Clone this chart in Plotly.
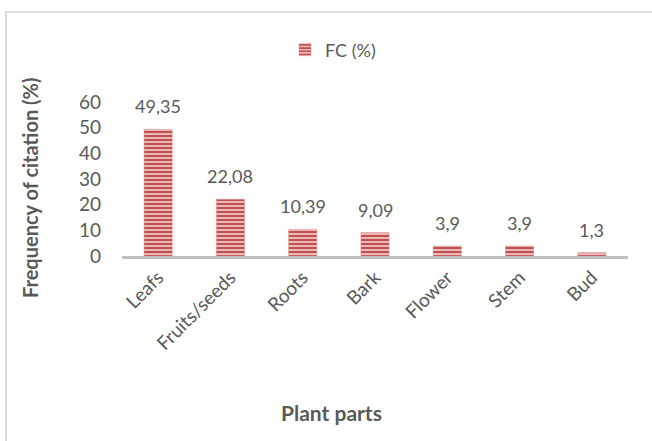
import plotly.graph_objects as go

categories = ["Leafs", "Fruits/seeds", "Roots", "Bark", "Flower", "Stem", "Bud"]
fc_values = [49.35, 22.08, 10.39, 9.09, 3.9, 3.9, 1.3]
y_ticks = [0, 10, 20, 30, 40, 50, 60]

labels = [("%g" % v).replace(".", ",") for v in fc_values]

FONT = "Lato, Open Sans, sans-serif"
GRAY = "#595959"

W, H = 652, 441
L, R, T, B = 122, 24, 102, 185
pw, ph = W - L - R, H - T - B

def px(x):
    return (x - L) / pw

def py(y):
    return (H - B - y) / ph

fig = go.Figure()
fig.add_trace(go.Bar(
    x=categories, y=fc_values, name="FC (%)",
    width=0.39,
    marker=dict(
        color="#F0C4C3",
        line=dict(color="#D98E8C", width=0.5),
        pattern=dict(shape="-", fgcolor="#C0504D", bgcolor="#F0C4C3", size=4,
                     solidity=0.55, fgopacity=1),
    ),
    showlegend=True,
))

annotations = [
    dict(x=c, y=v, text=t, xref="x", yref="y", showarrow=False, yanchor="bottom",
         yshift=10, font=dict(family=FONT, size=18, color=GRAY))
    for c, v, t in zip(categories, fc_values, labels)
]
annotations += [
    dict(text="<b>Frequency of citation (%)</b>", xref="paper", yref="paper",
         x=px(30), y=py(188), textangle=-90, showarrow=False,
         font=dict(size=20, color=GRAY), xanchor="center", yanchor="middle"),
    dict(text="<b>Plant parts</b>", xref="paper", yref="paper",
         x=px(331), y=py(412), showarrow=False,
         font=dict(size=21, color=GRAY), xanchor="center", yanchor="middle"),
]

fig.update_layout(
    width=W, height=H,
    margin=dict(l=L, r=R, t=T, b=B),
    paper_bgcolor="white", plot_bgcolor="white",
    font=dict(family=FONT, color=GRAY, size=18),
    showlegend=True,
    legend=dict(orientation="h", x=px(285), xanchor="left", y=py(50), yanchor="middle",
                font=dict(size=18, color=GRAY), itemwidth=30),
    xaxis=dict(
        showline=True, linecolor="#BFBFBF", linewidth=3,
        tickangle=-45, ticks="", tickfont=dict(size=19, color=GRAY),
        showgrid=False, zeroline=False,
    ),
    yaxis=dict(
        range=[0, 60], tickvals=y_ticks, showline=False, showgrid=False,
        zeroline=False, ticks="", tickfont=dict(size=19, color=GRAY),
        ticklabelstandoff=20,
    ),
    annotations=annotations,
    shapes=[
        dict(type="line", xref="paper", yref="paper", x0=px(5), x1=px(652), y0=py(12), y1=py(12),
             line=dict(color="#D9D9D9", width=1.5)),
        dict(type="line", xref="paper", yref="paper", x0=px(6), x1=px(6), y0=py(12), y1=py(441),
             line=dict(color="#D9D9D9", width=2)),
    ],
)

fig.write_html("out.html")
